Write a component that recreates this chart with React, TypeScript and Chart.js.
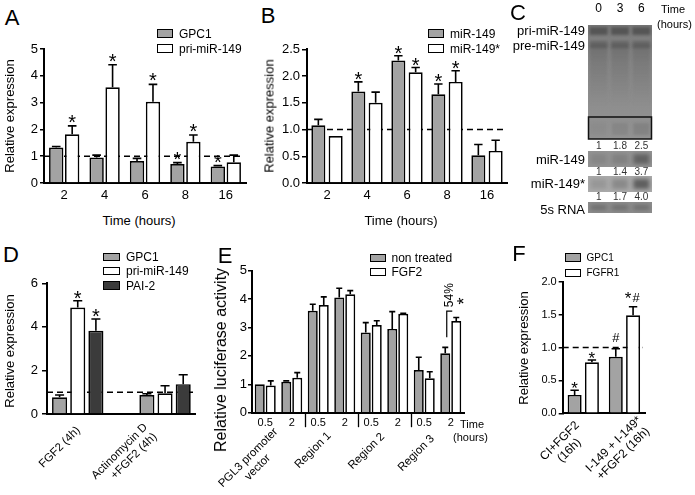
import React, { useEffect, useRef } from 'react';
import { Chart, registerables } from 'chart.js';
Chart.register(...registerables);

const FONT = '"Liberation Sans", Arial, Helvetica, sans-serif';
Chart.defaults.font.family = FONT;
const GREY = '#a3a3a3';
const WHITE = '#ffffff';
const DARK = '#3b3b3b';

// ---------- Panel A ----------
const hoursA = ['2', '4', '6', '8', '16'];
const gpc1A = [1.32, 0.95, 0.82, 0.71, 0.62];
const gpc1AErr = [1.36, 1.04, 0.92, 0.76, 0.65];
const gpc1AMarks = ['', '', '', '*', '*'];
const priA = [1.82, 3.57, 3.03, 1.54, 0.77];
const priAErr = [2.13, 4.41, 3.68, 1.79, 1.04];
const priAMarks = ['*', '*', '*', '*', ''];

// ---------- Panel B ----------
const hoursB = ['2', '4', '6', '8', '16'];
const mir149B = [1.08, 1.71, 2.29, 1.66, 0.52];
const mir149BErr = [1.19, 1.89, 2.38, 1.85, 0.72];
const mir149BMarks = ['', '*', '*', '*', ''];
const mir149sB = [0.88, 1.5, 2.07, 1.89, 0.6];
const mir149sBErr = [null, 1.7, 2.16, 2.1, 0.8];
const mir149sBMarks = ['', '', '*', '*', ''];

// ---------- Panel C (northern blot, densitometry) ----------
const lanesC = ['0', '3', '6'];
const preQuantC = [1, 1.8, 2.5];
const matureQuantC = [1, 1.4, 3.7];
const starQuantC = [1, 1.7, 4.0];
const rnaLoadC = [1, 1, 1];

// ---------- Panel D ----------
const groupsD = [['FGF2 (4h)'], ['Actinomycin D', '+FGF2 (4h)']];
const groupPosD = [1, 2];
const gpc1D = [0.77, 0.87];
const gpc1DErr = [0.87, 0.93];
const priD = [4.89, 0.95];
const priDErr = [5.2, 1.3];
const priDMarks = ['*', ''];
const pai2D = [3.82, 1.37];
const pai2DErr = [4.36, 1.8];
const pai2DMarks = ['*', ''];

// ---------- Panel E ----------
const timesE = ['0.5', '2', '0.5', '2', '0.5', '2', '0.5', '2'];
const constructsE = [['PGL3 promoter', 'vector'], ['Region 1'], ['Region 2'], ['Region 3']];
const nonTreatedE = [1.0, 1.09, 3.59, 4.06, 2.82, 2.95, 1.5, 2.09];
const nonTreatedEErr = [null, 1.12, 3.82, 4.38, 3.17, 3.56, 1.95, 2.3];
const fgf2E = [0.96, 1.23, 3.79, 4.17, 3.09, 3.48, 1.21, 3.23];
const fgf2EErr = [1.12, 1.41, 4.08, 4.3, 3.24, 3.5, 1.44, 3.35];
const increaseE = '54%';

// ---------- Panel F ----------
const groupsF = [['CI+FGF2', '(16h)'], ['I-149 + I-149*', '+FGF2 (16h)']];
const gpc1F = [0.28, 0.86];
const gpc1FErr = [0.35, 0.98];
const gpc1FMarks = ['*', '#'];
const fgfr1F = [0.775, 1.49];
const fgfr1FErr = [0.81, 1.62];
const fgfr1FMarks = ['*', '*#'];

const tick = (size: number) => ({ family: FONT, size });

interface DS { label: string; data: any[]; err: (number | null)[]; marks?: string[]; color: string }
interface Rot { labels: string[][]; size: number; lh: number; align: 'center' | 'right'; off: number[][]; xs: (c: any) => number[] }
interface BarSpec {
  labels?: string[];
  datasets: DS[];
  ymin: number; ymax: number; step: number; fmt?: (v: number) => string;
  yW: number; xH: number; padTop: number; padRight: number;
  tickSize: number; yTickLen: number; yTickPad: number;
  xTicks?: { size: number; padding: number } | null;
  catPct: number; barPct: number;
  dashY?: number;
  linearX?: { min: number; max: number; values: number[] };
  mark: { starSize: number; starDy: number; hashSize: number; hashDy: number };
  rot?: Rot;
  extra?: (c: any) => void;
}

function drawMark(ctx: CanvasRenderingContext2D, m: string, x: number, top: number, s: BarSpec['mark']) {
  ctx.save();
  ctx.fillStyle = '#000';
  ctx.textAlign = 'center';
  ctx.textBaseline = 'alphabetic';
  if (m === '*') {
    ctx.font = `${s.starSize}px ${FONT}`;
    ctx.fillText('*', x, top + s.starDy);
  } else if (m === '#') {
    ctx.font = `${s.hashSize}px ${FONT}`;
    ctx.fillText('#', x, top + s.hashDy);
  } else if (m === '*#') {
    ctx.font = `${s.starSize}px ${FONT}`;
    ctx.fillText('*', x - 5, top + s.starDy - 7);
    ctx.font = `${s.hashSize}px ${FONT}`;
    ctx.fillText('#', x + 3, top + s.hashDy + 2);
  }
  ctx.restore();
}

function annot(s: BarSpec) {
  return {
    id: 'annot',
    beforeDatasetsDraw(chart: any) {
      if (s.dashY == null) return;
      const { ctx, chartArea } = chart;
      const y = chart.scales.y.getPixelForValue(s.dashY);
      ctx.save();
      ctx.strokeStyle = '#000';
      ctx.lineWidth = 1.5;
      ctx.setLineDash([6, 4]);
      ctx.beginPath();
      ctx.moveTo(chartArea.left, y);
      ctx.lineTo(chartArea.right - 2, y);
      ctx.stroke();
      ctx.restore();
    },
    afterDatasetsDraw(chart: any) {
      const ctx: CanvasRenderingContext2D = chart.ctx;
      const ys = chart.scales.y;
      chart.data.datasets.forEach((ds: any, i: number) => {
        const meta = chart.getDatasetMeta(i);
        meta.data.forEach((bar: any, j: number) => {
          const v = ds.data[j];
          const val = typeof v === 'object' ? v.y : v;
          const e = ds.err ? ds.err[j] : null;
          let top = bar.y;
          if (e != null && e > val) {
            const ye = ys.getPixelForValue(e);
            const cw = Math.max(3, bar.width * 0.3);
            ctx.save();
            ctx.strokeStyle = '#000';
            ctx.lineWidth = 1.6;
            ctx.beginPath();
            ctx.moveTo(bar.x, bar.y);
            ctx.lineTo(bar.x, ye);
            ctx.moveTo(bar.x - cw, ye);
            ctx.lineTo(bar.x + cw, ye);
            ctx.stroke();
            ctx.restore();
            top = ye;
          }
          const m = ds.marks ? ds.marks[j] : '';
          if (m) drawMark(ctx, m, bar.x, top, s.mark);
        });
      });
      if (s.extra) s.extra(chart);
    },
    afterDraw(chart: any) {
      const r = s.rot;
      if (!r) return;
      const ctx: CanvasRenderingContext2D = chart.ctx;
      const xs = r.xs(chart);
      ctx.save();
      ctx.font = `${r.size}px ${FONT}`;
      ctx.fillStyle = '#000';
      ctx.textBaseline = 'middle';
      r.labels.forEach((lines, i) => {
        const [dx, dy] = r.off[i];
        const w0 = ctx.measureText(lines[0]).width;
        ctx.save();
        ctx.translate(xs[i] + dx, chart.chartArea.bottom + dy);
        ctx.rotate(-Math.PI / 4);
        lines.forEach((l, k) => {
          if (r.align === 'center') {
            ctx.textAlign = 'center';
            ctx.fillText(l, -w0 / 2, k * r.lh);
          } else {
            ctx.textAlign = 'right';
            ctx.fillText(l, 0, k * r.lh);
          }
        });
        ctx.restore();
      });
      ctx.restore();
    },
  };
}

function barConfig(s: BarSpec): any {
  const xScale: any = s.linearX
    ? {
        type: 'linear', min: s.linearX.min, max: s.linearX.max, offset: false,
        afterBuildTicks: (sc: any) => { sc.ticks = s.linearX!.values.map((v) => ({ value: v })); },
        ticks: { display: false },
      }
    : {
        type: 'category',
        ticks: s.xTicks
          ? { color: '#000', font: tick(s.xTicks.size), padding: s.xTicks.padding, maxRotation: 0, minRotation: 0, autoSkip: false }
          : { display: false },
      };
  Object.assign(xScale, {
    grid: { display: false, drawTicks: false },
    border: { display: true, color: '#000', width: 2 },
    afterFit: (sc: any) => { sc.height = s.xH; },
  });
  return {
    type: 'bar',
    data: {
      labels: s.labels,
      datasets: s.datasets.map((d) => ({
        label: d.label, data: d.data, err: d.err, marks: d.marks,
        backgroundColor: d.color, borderColor: '#000', borderWidth: 1.7,
        categoryPercentage: s.catPct, barPercentage: s.barPct,
      })),
    },
    options: {
      responsive: false, animation: false, events: [],
      layout: { padding: { top: s.padTop, right: s.padRight, left: 0, bottom: 0 } },
      plugins: { legend: { display: false }, tooltip: { enabled: false } },
      scales: {
        x: xScale,
        y: {
          min: s.ymin, max: s.ymax,
          ticks: {
            stepSize: s.step, color: '#000', font: tick(s.tickSize), padding: s.yTickPad,
            callback: (v: number) => (s.fmt ? s.fmt(v) : String(v)),
          },
          grid: { drawOnChartArea: false, color: '#000', lineWidth: 1.5, tickLength: s.yTickLen },
          border: { color: '#000', width: 2 },
          afterFit: (sc: any) => { sc.width = s.yW; },
        },
      },
    },
    plugins: [annot(s)],
  };
}

const catXs = (c: any) => c.scales.x.getLabels().map((_: any, i: number) => c.scales.x.getPixelForValue(i));

const specA: BarSpec = {
  labels: hoursA,
  datasets: [
    { label: 'GPC1', data: gpc1A, err: gpc1AErr, marks: gpc1AMarks, color: GREY },
    { label: 'pri-miR-149', data: priA, err: priAErr, marks: priAMarks, color: WHITE },
  ],
  ymin: 0, ymax: 5, step: 1,
  yW: 44, xH: 22, padTop: 19, padRight: 4,
  tickSize: 13, yTickLen: 4, yTickPad: 2,
  xTicks: { size: 13, padding: 5 },
  catPct: 0.79, barPct: 0.9, dashY: 1,
  mark: { starSize: 20, starDy: 3, hashSize: 13, hashDy: -7 },
};

const specB: BarSpec = {
  labels: hoursB,
  datasets: [
    { label: 'miR-149', data: mir149B, err: mir149BErr, marks: mir149BMarks, color: GREY },
    { label: 'miR-149*', data: mir149sB, err: mir149sBErr, marks: mir149sBMarks, color: WHITE },
  ],
  ymin: 0, ymax: 2.5, step: 0.5, fmt: (v) => v.toFixed(1),
  yW: 52, xH: 22, padTop: 19.3, padRight: 3,
  tickSize: 13, yTickLen: 5, yTickPad: 2,
  xTicks: { size: 13, padding: 5 },
  catPct: 0.865, barPct: 0.81, dashY: 1,
  mark: { starSize: 20, starDy: 4.4, hashSize: 13, hashDy: -7 },
};

const specD: BarSpec = {
  datasets: [
    { label: 'GPC1', data: groupPosD.map((x, i) => ({ x, y: gpc1D[i] })), err: gpc1DErr, color: GREY },
    { label: 'pri-miR-149', data: groupPosD.map((x, i) => ({ x, y: priD[i] })), err: priDErr, marks: priDMarks, color: WHITE },
    { label: 'PAI-2', data: groupPosD.map((x, i) => ({ x, y: pai2D[i] })), err: pai2DErr, marks: pai2DMarks, color: DARK },
  ],
  ymin: 0, ymax: 6, step: 2,
  yW: 47, xH: 71, padTop: 13.3, padRight: 5,
  tickSize: 13, yTickLen: 5, yTickPad: 4,
  catPct: 0.624, barPct: 0.83, dashY: 1,
  linearX: { min: 0.648, max: 2.343, values: groupPosD },
  mark: { starSize: 20, starDy: 4, hashSize: 13, hashDy: -7 },
  rot: {
    labels: groupsD, size: 11.5, lh: 13.5, align: 'right', off: [[0.8, 14.5], [-19.5, 11.5]],
    xs: (c) => groupPosD.map((v) => c.scales.x.getPixelForValue(v)),
  },
};

const specE: BarSpec = {
  labels: timesE,
  datasets: [
    { label: 'non treated', data: nonTreatedE, err: nonTreatedEErr, color: GREY },
    { label: 'FGF2', data: fgf2E, err: fgf2EErr, color: WHITE },
  ],
  ymin: 0, ymax: 5, step: 1,
  yW: 37, xH: 82.3, padTop: 15.7, padRight: 9,
  tickSize: 13, yTickLen: 4, yTickPad: 1,
  xTicks: { size: 11, padding: 4 },
  catPct: 0.83, barPct: 0.91,
  mark: { starSize: 17, starDy: 4, hashSize: 13, hashDy: -7 },
  rot: {
    labels: constructsE, size: 11.5, lh: 13.5, align: 'center',
    off: [[-2.5, 17.3], [-2.25, 21.3], [-1.75, 22.3], [-5, 24.3]],
    xs: (c) => constructsE.map((_, k) => (c.scales.x.getPixelForValue(2 * k) + c.scales.x.getPixelForValue(2 * k + 1)) / 2),
  },
  extra: (c) => {
    const ctx: CanvasRenderingContext2D = c.ctx;
    const xs = c.scales.x;
    const ys = c.scales.y;
    const yb = c.chartArea.bottom;
    ctx.save();
    ctx.strokeStyle = '#000';
    ctx.lineWidth = 1.3;
    // separators between constructs
    for (let k = 1; k < constructsE.length; k++) {
      const x = Math.round((xs.getPixelForValue(2 * k - 1) + xs.getPixelForValue(2 * k)) / 2) + 0.5;
      ctx.beginPath();
      ctx.moveTo(x, yb);
      ctx.lineTo(x, yb + 14.5);
      ctx.stroke();
    }
    // bracket + percentage over last pair
    const last = timesE.length - 1;
    const g = c.getDatasetMeta(0).data[last];
    const w = c.getDatasetMeta(1).data[last];
    const x0 = g.x + 1.5;
    const y1 = ys.getPixelForValue(2.66);
    const y2 = ys.getPixelForValue(3.58);
    ctx.lineWidth = 1.2;
    ctx.beginPath();
    ctx.moveTo(x0, y1);
    ctx.lineTo(x0, y2);
    ctx.lineTo(x0 + 5.5, y2);
    ctx.stroke();
    ctx.fillStyle = '#000';
    ctx.save();
    ctx.translate(w.x - 6.3, ys.getPixelForValue(4.14));
    ctx.rotate(-Math.PI / 2);
    ctx.font = `12px ${FONT}`;
    ctx.textAlign = 'center';
    ctx.textBaseline = 'middle';
    ctx.fillText(increaseE, 0, 0);
    ctx.restore();
    ctx.save();
    ctx.translate(w.x + 3, ys.getPixelForValue(3.93));
    ctx.rotate(-Math.PI / 2);
    ctx.font = `18px ${FONT}`;
    ctx.textAlign = 'center';
    ctx.textBaseline = 'alphabetic';
    ctx.fillText('*', 0, 0.57 * 18);
    ctx.restore();
    ctx.restore();
  },
};

const specF: BarSpec = {
  labels: groupsF.map((g) => g.join(' ')),
  datasets: [
    { label: 'GPC1', data: gpc1F, err: gpc1FErr, marks: gpc1FMarks, color: GREY },
    { label: 'FGFR1', data: fgfr1F, err: fgfr1FErr, marks: fgfr1FMarks, color: WHITE },
  ],
  ymin: 0, ymax: 2, step: 0.5, fmt: (v) => v.toFixed(1),
  yW: 32.7, xH: 81.7, padTop: 26.7, padRight: 50,
  tickSize: 11, yTickLen: 4, yTickPad: 2,
  xTicks: null,
  catPct: 0.84, barPct: 0.81, dashY: 1,
  mark: { starSize: 17, starDy: 4, hashSize: 13, hashDy: -7 },
  rot: {
    labels: groupsF, size: 12, lh: 13.5, align: 'center', off: [[-5.9, 10.2], [15.2, 5.2]],
    xs: catXs,
  },
};

const fmtQ = (q: number) => (q === 1 ? '1' : q.toFixed(1));

const blotPlugin = {
  id: 'blot',
  afterDraw(chart: any) {
    const ctx: CanvasRenderingContext2D = chart.ctx;
    const a = chart.chartArea;
    const xs: number[] = lanesC.map((_, i) => chart.scales.x.getPixelForValue(i));
    const L = a.left;
    const W = a.right - a.left;
    const T = a.top;
    // upper gel (precursors)
    ctx.save();
    ctx.beginPath();
    ctx.rect(L, T, W, 114);
    ctx.clip();
    const g = ctx.createLinearGradient(0, T, 0, T + 114);
    g.addColorStop(0, '#7a7a7a');
    g.addColorStop(0.35, '#888888');
    g.addColorStop(1, '#939393');
    ctx.fillStyle = g;
    ctx.fillRect(L, T, W, 114);
    ctx.filter = 'blur(1.5px)';
    xs.forEach((x, i) => {
      ctx.fillStyle = 'rgba(45,45,45,0.5)';
      ctx.fillRect(x - 9, T + 2, 18, 8);
      ctx.fillStyle = 'rgba(45,45,45,0.33)';
      ctx.fillRect(x - 9, T + 16, 18, 7);
      const sg = ctx.createLinearGradient(0, T + 20, 0, T + 80);
      sg.addColorStop(0, 'rgba(60,60,60,0.25)');
      sg.addColorStop(1, 'rgba(60,60,60,0)');
      ctx.fillStyle = sg;
      ctx.fillRect(x - 9, T + 20, 18, 60);
      ctx.fillStyle = `rgba(50,50,50,${0.06 * preQuantC[i]})`;
      ctx.fillRect(x - 8, T + 98, 16, 12);
    });
    ctx.restore();
    ctx.save();
    ctx.lineWidth = 1.5;
    ctx.strokeStyle = '#111';
    ctx.strokeRect(L + 0.5, T + 92, W - 1, 22);
    ctx.restore();
    const strip = (y0: number, h: number, base: string, q: number[], k: number) => {
      ctx.save();
      ctx.beginPath();
      ctx.rect(L, y0, W, h);
      ctx.clip();
      ctx.fillStyle = base;
      ctx.fillRect(L, y0, W, h);
      ctx.filter = 'blur(2px)';
      xs.forEach((x, i) => {
        ctx.fillStyle = `rgba(35,35,35,${Math.min(0.85, k * q[i])})`;
        ctx.fillRect(x - 8, y0 + 3, 16, h - 6);
      });
      ctx.restore();
    };
    strip(T + 126, 16, '#939393', matureQuantC, 0.12);
    strip(T + 151, 16, '#aaaaaa', starQuantC, 0.14);
    strip(T + 177, 11, '#8c8c8c', rnaLoadC, 0.3);
    ctx.save();
    ctx.fillStyle = '#333';
    ctx.font = `10px ${FONT}`;
    ctx.textAlign = 'center';
    ctx.textBaseline = 'middle';
    [[preQuantC, 121], [matureQuantC, 147.5], [starQuantC, 172.5]].forEach(([q, dy]: any) => {
      xs.forEach((x, i) => ctx.fillText(fmtQ(q[i]), x, T + dy));
    });
    ctx.restore();
  },
};

function blotConfig(): any {
  return {
    type: 'bar',
    data: { labels: lanesC, datasets: [] },
    options: {
      responsive: false, animation: false, events: [],
      layout: { padding: { left: 83, right: 43, top: 0, bottom: 12 } },
      plugins: { legend: { display: false }, tooltip: { enabled: false } },
      scales: {
        x: {
          position: 'top',
          grid: { display: false, drawTicks: false },
          border: { display: false },
          ticks: { color: '#000', font: tick(12), padding: 9 },
          afterFit: (sc: any) => { sc.height = 25; },
        },
        y: { display: false, min: 0, max: 1 },
      },
    },
    plugins: [blotPlugin],
  };
}

function ChartBox({ x, y, w, h, make }: { x: number; y: number; w: number; h: number; make: () => any }) {
  const ref = useRef<HTMLCanvasElement>(null);
  useEffect(() => {
    const chart = new Chart(ref.current as HTMLCanvasElement, make());
    return () => chart.destroy();
  }, []);
  return <canvas ref={ref} width={w} height={h} style={{ position: 'absolute', left: x, top: y, width: w, height: h }} />;
}

function T({ x, y, s = 13, a = 'c', r = 0, children }: { x: number; y: number; s?: number; a?: 'c' | 'l' | 'r'; r?: number; children: React.ReactNode }) {
  const tx = a === 'c' ? '-50%' : a === 'r' ? '-100%' : '0';
  return (
    <div style={{ position: 'absolute', left: x, top: y, fontFamily: FONT, fontSize: s, lineHeight: 1, whiteSpace: 'nowrap', color: '#000', transform: `translate(${tx},-50%) rotate(${r}deg)` }}>
      {children}
    </div>
  );
}

function Key({ x, y, w = 16, h = 8.5, color, label, s = 12 }: { x: number; y: number; w?: number; h?: number; color: string; label: string; s?: number }) {
  return (
    <>
      <div style={{ position: 'absolute', left: x, top: y - h / 2, width: w, height: h, background: color, border: '1.5px solid #000', boxSizing: 'border-box' }} />
      <T x={x + w + 6} y={y} s={s} a="l">{label}</T>
    </>
  );
}

export default function App() {
  return (
    <div style={{ position: 'absolute', left: 0, top: 0, width: 695, height: 495, background: '#fff', overflow: 'hidden', fontFamily: FONT }}>
      <ChartBox x={0} y={30} w={250} h={175} make={() => barConfig(specA)} />
      <ChartBox x={255} y={30} w={255} h={175} make={() => barConfig(specB)} />
      <ChartBox x={505} y={0} w={190} h={225} make={blotConfig} />
      <ChartBox x={0} y={270} w={200} h={215} make={() => barConfig(specD)} />
      <ChartBox x={215} y={255} w={258} h={240} make={() => barConfig(specE)} />
      <ChartBox x={530} y={255} w={165} h={240} make={() => barConfig(specF)} />

      {/* panel letters */}
      <T x={12} y={18} s={22}>A</T>
      <T x={268} y={16} s={22}>B</T>
      <T x={518} y={13} s={22}>C</T>
      <T x={11} y={255} s={22}>D</T>
      <T x={225} y={256} s={22}>E</T>
      <T x={519} y={254} s={22}>F</T>

      {/* A */}
      <T x={9} y={116} r={-90}>Relative expression</T>
      <T x={139} y={220}>Time (hours)</T>
      <Key x={157} y={33.5} color={GREY} label="GPC1" />
      <Key x={157} y={48.5} color={WHITE} label="pri-miR-149" />

      {/* B */}
      <T x={268.5} y={116} r={-90}>Relative expression</T>
      <T x={401} y={220}>Time (hours)</T>
      <Key x={428} y={33.5} color={GREY} label="miR-149" />
      <Key x={428} y={48.5} color={WHITE} label="miR-149*" />

      {/* C */}
      <T x={673} y={9} s={11}>Time</T>
      <T x={674.5} y={23.5} s={11}>(hours)</T>
      <T x={585} y={30} a="r">pri-miR-149</T>
      <T x={585} y={44.5} a="r">pre-miR-149</T>
      <T x={585} y={158.5} a="r">miR-149</T>
      <T x={585} y={183} a="r">miR-149*</T>
      <T x={585} y={209} a="r">5s RNA</T>

      {/* D */}
      <T x={9} y={351} r={-90}>Relative expression</T>
      <Key x={103} y={257} w={17} color={GREY} label="GPC1" />
      <Key x={103} y={271} w={17} color={WHITE} label="pri-miR-149" />
      <Key x={103} y={285.5} w={17} color={DARK} label="PAI-2" />

      {/* E */}
      <T x={220.5} y={360} s={16} r={-90}>Relative luciferase activity</T>
      <Key x={369.5} y={258} color={GREY} label="non treated" />
      <Key x={369.5} y={272} color={WHITE} label="FGF2" />
      <T x={460} y={423.5} s={11} a="l">Time</T>
      <T x={470.5} y={437} s={11}>(hours)</T>

      {/* F */}
      <T x={523} y={348} r={-90}>Relative expression</T>
      <Key x={564.5} y={257.5} color={GREY} label="GPC1" s={10} />
      <Key x={564.5} y={273} color={WHITE} label="FGFR1" s={10} />
    </div>
  );
}
